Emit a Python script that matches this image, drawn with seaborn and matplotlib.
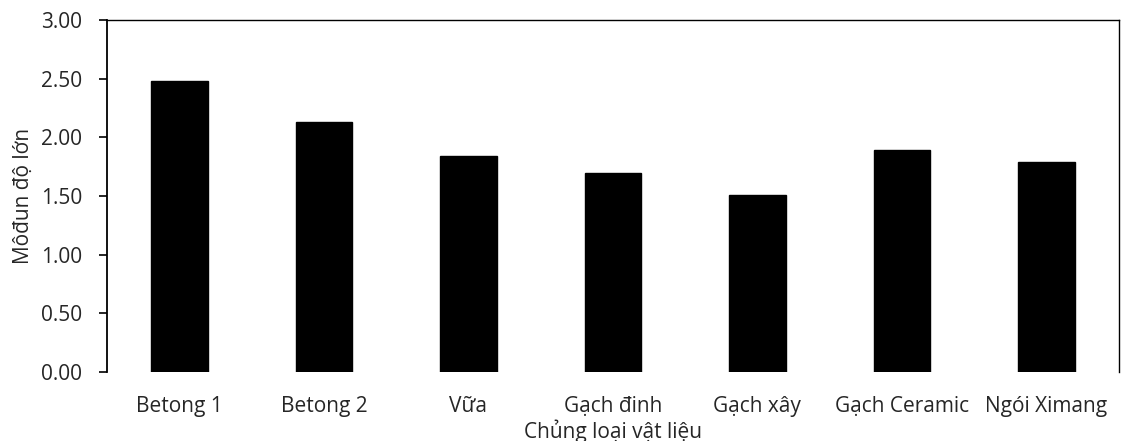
import matplotlib
matplotlib.use("Agg")
import matplotlib.pyplot as plt
import seaborn as sns
import pandas as pd

# Materials and their fineness modulus values
materials = ["Betong 1", "Betong 2", "Vữa", "Gạch đinh", "Gạch xây",
             "Gạch Ceramic", "Ngói Ximang"]
modulus = [2.48, 2.13, 1.84, 1.70, 1.51, 1.89, 1.79]
y_ticks = [0.0, 0.5, 1.0, 1.5, 2.0, 2.5, 3.0]

df = pd.DataFrame({"material": materials, "modulus": modulus})

sns.set_theme(style="white")
plt.rcParams["font.family"] = ["Open Sans", "DejaVu Sans"]

fig = plt.figure(figsize=(11.21, 4.41), dpi=100)
ax = fig.add_axes([0.0955, 0.1565, 0.9025, 0.798])

sns.barplot(data=df, x="material", y="modulus", color="black",
            saturation=1, width=0.39, ax=ax, edgecolor="black")

FS = 15
ax.set_ylim(0, 3.0)
ax.set_xlim(-0.5, len(materials) - 0.5)
ax.set_yticks(y_ticks)
ax.set_yticklabels([f"{v:.2f}" for v in y_ticks], fontsize=FS)
ax.tick_params(axis="y", direction="out", length=6, width=1.2,
               color="black", left=True, pad=12)
ax.tick_params(axis="x", length=0, labelsize=FS, pad=17)

for side in ("left", "top", "right"):
    ax.spines[side].set_visible(True)
    ax.spines[side].set_color("black")
ax.spines["left"].set_linewidth(1.3)
ax.spines["top"].set_linewidth(1.0)
ax.spines["right"].set_linewidth(1.0)
ax.spines["bottom"].set_visible(False)

ax.set_xlabel("Chủng loại vật liệu", fontsize=FS, labelpad=2)
ax.set_ylabel("Môđun độ lớn", fontsize=FS, labelpad=5)
ax.grid(False)

fig.savefig("out.png", dpi=100, facecolor="white")
